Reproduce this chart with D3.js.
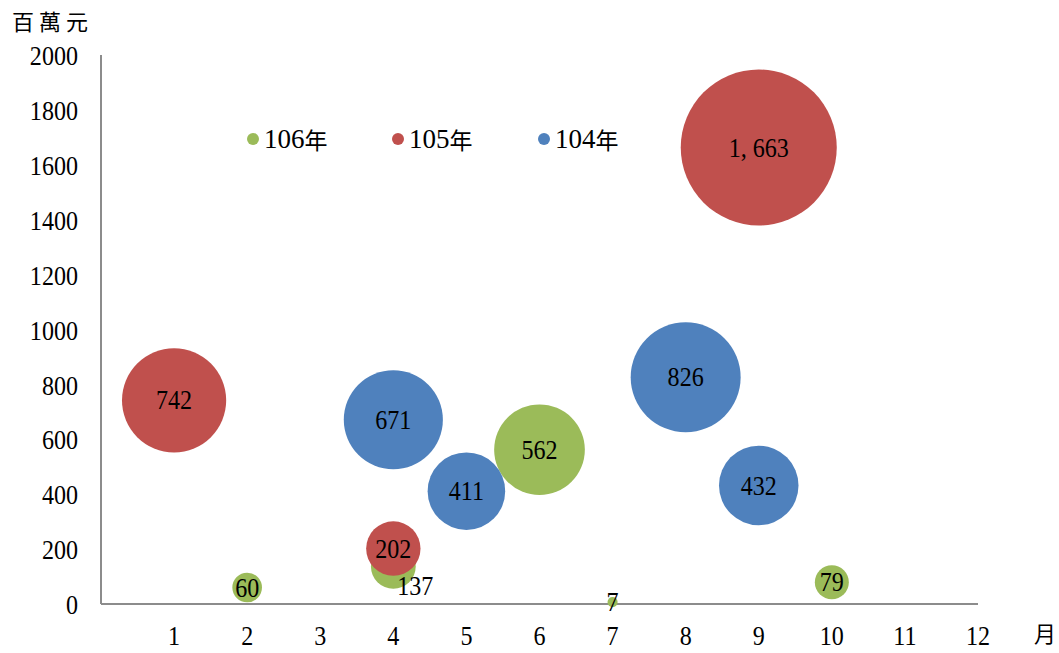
<!DOCTYPE html>
<html><head><meta charset="utf-8">
<script src="https://cdn.jsdelivr.net/npm/d3@7"></script>
<style>body{margin:0;background:#fff}</style>
</head><body>
<svg id="c" width="1059" height="653"></svg>
<script>
const months = [1,2,3,4,5,6,7,8,9,10,11,12];
const yTicks = [0,200,400,600,800,1000,1200,1400,1600,1800,2000];
const seriesNames = ["106年","105年","104年"];
const seriesColors = ["#9BBB59","#C0504D","#4F81BD"];
const s106Months = [2,4,6,7,10];
const s106Values = [60,137,562,7,79];
const s105Months = [1,4,9];
const s105Values = [742,202,1663];
const s104Months = [4,5,8,9];
const s104Values = [671,411,826,432];

const series = [
  {name: seriesNames[0], color: seriesColors[0], months: s106Months, values: s106Values},
  {name: seriesNames[1], color: seriesColors[1], months: s105Months, values: s105Values},
  {name: seriesNames[2], color: seriesColors[2], months: s104Months, values: s104Values}
];

const svg = d3.select("#c");
const x = d3.scaleLinear().domain([0,12]).range([101,978]);
const y = d3.scaleLinear().domain([0,2000]).range([604,55]);
const r = d3.scaleSqrt().domain([0,1663]).range([0,78]);
const serif = "'Liberation Serif','Times New Roman',serif";
const SX = 0.86;

function txt(g, tx, ty, s, size, anchor, fam){
  return g.append("text").attr("transform", `translate(${tx},${ty}) scale(${SX},1)`)
    .attr("text-anchor", anchor).attr("dominant-baseline","central")
    .style("font-family", fam||serif).style("font-size", size+"px").attr("fill","#000").text(s);
}

// axes lines
const axisColor = "#8c8c8c";
svg.append("line").attr("x1",x(0)).attr("x2",x(0)).attr("y1",y(2000)).attr("y2",y(0)).attr("stroke",axisColor).attr("stroke-width",2);
svg.append("line").attr("x1",x(0)).attr("x2",x(12)).attr("y1",y(0)).attr("y2",y(0)).attr("stroke",axisColor).attr("stroke-width",2);

const gy = svg.append("g");
yTicks.forEach(t => txt(gy, 78, y(t)+1, String(t), 28, "end"));
const gx = svg.append("g");
months.forEach(m => txt(gx, x(m), 636, String(m), 28, "middle"));

// axis titles
svg.append("text").attr("x",12).attr("y",20).attr("dominant-baseline","central")
  .style("font-family","'Noto Sans CJK TC',sans-serif").style("font-size","22px").attr("letter-spacing","5").text("百萬元");
svg.append("text").attr("x",1034).attr("y",632).attr("dominant-baseline","central")
  .style("font-family","'Noto Sans CJK TC',sans-serif").style("font-size","22px").text("月");

// bubbles
const gb = svg.append("g");
series.forEach(s => {
  s.values.forEach((v,i) => {
    gb.append("circle").attr("cx", x(s.months[i])).attr("cy", y(v)).attr("r", r(v)).attr("fill", s.color);
  });
});
// labels
const gl = svg.append("g");
series.forEach(s => {
  s.values.forEach((v,i) => {
    let lx = x(s.months[i]), ly = y(v);
    if (v === 137) { lx += 22; ly += 19; }
    txt(gl, lx, ly, d3.format(",")(v).replace(",", ", "), 28, "middle");
  });
});

// legend
const legX = [253, 398, 544];
series.forEach((s,i) => {
  svg.append("circle").attr("cx", legX[i]).attr("cy", 139).attr("r", 6).attr("fill", s.color);
  const t = svg.append("text").attr("transform", `translate(${legX[i]+11},139)`)
    .attr("dominant-baseline","central").style("font-size","27px");
  t.append("tspan").style("font-family", serif).text(s.name.slice(0,3));
  t.append("tspan").style("font-family","'Noto Sans CJK TC',sans-serif").style("font-size","23px").text(s.name.slice(3));
});
</script>
</body></html>
